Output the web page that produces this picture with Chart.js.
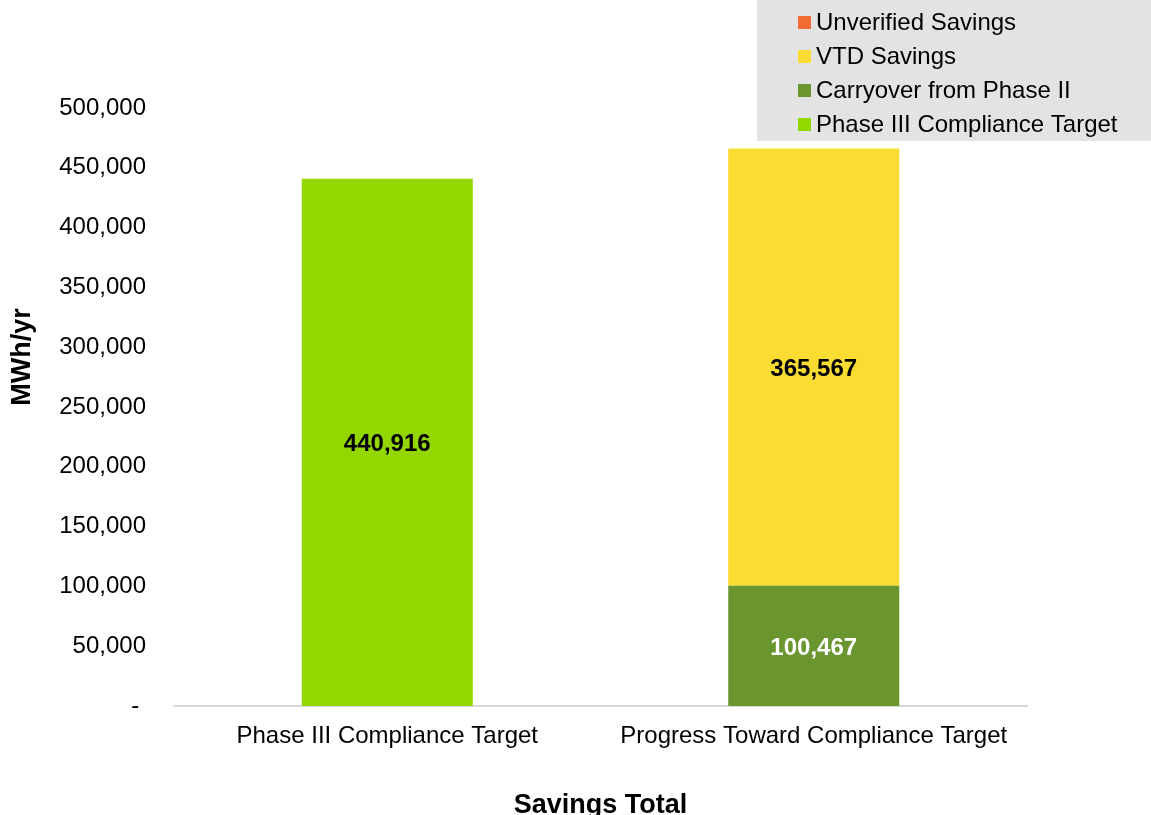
<!DOCTYPE html>
<html><head><meta charset="utf-8">
<script src="https://cdn.jsdelivr.net/npm/chart.js@4"></script>
<style>html,body{margin:0;padding:0;background:#fff}#wrap{width:1151px;height:815px}</style>
</head><body><div id="wrap"><canvas id="c" width="1151" height="815"></canvas></div>
<script>
const categories = ["Phase III Compliance Target", "Progress Toward Compliance Target"];
const phase3Target = [440916, 0];
const carryover = [0, 100467];
const vtdSavings = [0, 365567];
const unverified = [0, 0];
const yTicks = [0, 50000, 100000, 150000, 200000, 250000, 300000, 350000, 400000, 450000, 500000];
const seriesLabels = ["Phase III Compliance Target", "Carryover from Phase II", "VTD Savings", "Unverified Savings"];
const seriesColors = ["#93D600", "#6A952F", "#FADC32", "#F26B32"];
const labelColors = ["#000000", "#FFFFFF", "#000000", "#000000"];
const xTitle = "Savings Total";
const yTitle = "MWh/yr";

const FONT = "'Liberation Sans', Arial, sans-serif";
const fmt = v => v.toLocaleString('en-US');

const valueLabels = {
  id: 'valueLabels',
  afterDatasetsDraw(chart) {
    const ctx = chart.ctx;
    ctx.save();
    ctx.font = "bold 24px " + FONT;
    ctx.textAlign = 'center';
    ctx.textBaseline = 'middle';
    chart.data.datasets.forEach((ds, i) => {
      const meta = chart.getDatasetMeta(i);
      meta.data.forEach((bar, j) => {
        const v = ds.data[j];
        if (!v) return;
        const p = bar.getProps(['x', 'y', 'base'], true);
        ctx.fillStyle = labelColors[i];
        ctx.fillText(fmt(v), p.x, (p.y + p.base) / 2 + 2);
      });
    });
    ctx.restore();
  }
};

const customDecor = {
  id: 'customDecor',
  afterDraw(chart) {
    const ctx = chart.ctx;
    const ca = chart.chartArea;
    ctx.save();
    ctx.font = "bold 27px " + FONT;
    ctx.fillStyle = '#000';
    ctx.textAlign = 'center';
    ctx.textBaseline = 'middle';
    // x axis title
    ctx.fillText(xTitle, (ca.left + ca.right) / 2, 806);
    // y axis title
    ctx.translate(23, 357);
    ctx.rotate(-Math.PI / 2);
    ctx.fillText(yTitle, 0, 0);
    ctx.restore();
    // legend
    ctx.save();
    ctx.fillStyle = '#E3E3E3';
    ctx.fillRect(757, 0, 394, 141);
    ctx.font = "24px " + FONT;
    ctx.textAlign = 'left';
    ctx.textBaseline = 'middle';
    const n = seriesLabels.length;
    for (let k = 0; k < n; k++) {
      const i = n - 1 - k;
      const y = 22 + k * 34;
      ctx.fillStyle = seriesColors[i];
      ctx.fillRect(798, y - 6, 13, 13);
      ctx.fillStyle = '#000';
      ctx.fillText(seriesLabels[i], 816, y + 1);
    }
    ctx.restore();
  }
};

const dataArrays = [phase3Target, carryover, vtdSavings, unverified];
new Chart(document.getElementById('c'), {
  type: 'bar',
  data: {
    labels: categories,
    datasets: seriesLabels.map((l, i) => ({
      label: l,
      data: dataArrays[i],
      backgroundColor: seriesColors[i],
      borderWidth: 0,
      categoryPercentage: 1,
      barPercentage: 0.401
    }))
  },
  options: {
    responsive: false,
    animation: false,
    layout: { padding: { top: 108, right: 124, left: 0, bottom: 0 } },
    plugins: { legend: { display: false }, tooltip: { enabled: false } },
    scales: {
      x: {
        stacked: true,
        afterFit(scale) { scale.height = 109; },
        grid: { display: false, drawTicks: false },
        border: { display: true, color: '#D9D9D9', width: 2 },
        ticks: { color: '#000', font: { family: FONT, size: 24 }, padding: 16, maxRotation: 0 }
      },
      y: {
        stacked: true,
        min: 0, max: 500000,
        afterFit(scale) { scale.width = 174; },
        afterBuildTicks(scale) { scale.ticks = yTicks.map(v => ({ value: v })); },
        grid: { display: false, drawTicks: false },
        border: { display: false },
        ticks: {
          color: '#000', font: { family: FONT, size: 24 }, padding: 28,
          callback: v => v === 0 ? '- ' : fmt(v)
        }
      }
    }
  },
  plugins: [valueLabels, customDecor]
});
</script></body></html>
